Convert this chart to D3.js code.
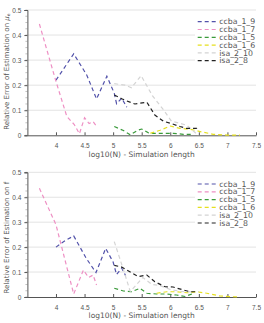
<!DOCTYPE html>
<html>
<head>
<meta charset="utf-8">
<script src="https://cdn.jsdelivr.net/npm/d3@7"></script>
<style>
  body { margin: 0; background: #fff; }
  svg { display: block; font-family: "DejaVu Sans", sans-serif; }
</style>
</head>
<body>
<svg id="chart" width="264" height="323"></svg>
<script>
// Series names and colours (legend order)
const seriesNames = ["ccba_1_9", "ccba_1_7", "ccba_1_5", "ccba_1_6", "isa_2_10", "isa_2_8"];
const seriesColors = ["#5252aa", "#ee90c4", "#3a9a3a", "#e6e01e", "#d4d4d4", "#222222"];

const xTicks = [4, 4.5, 5, 5.5, 6, 6.5, 7, 7.5];
const yTicks = [0, 0.1, 0.2, 0.3, 0.4, 0.5];

// Top panel: relative error on mu_e  ([log10(N), error])
const muE_ccba_1_9 = [[4.0, 0.22], [4.31, 0.325], [4.54, 0.24], [4.71, 0.145], [4.89, 0.236], [5.02, 0.168], [5.06, 0.126], [5.15, 0.148], [5.24, 0.112]];
const muE_ccba_1_7 = [[3.71, 0.444], [4.0, 0.215], [4.19, 0.075], [4.32, 0.043], [4.41, 0.006], [4.5, 0.07], [4.58, 0.047], [4.65, 0.055], [4.71, 0.036]];
const muE_ccba_1_5 = [[5.02, 0.035], [5.18, 0.019], [5.3, 0.002], [5.43, 0.02], [5.5, 0.025], [5.62, 0.01], [5.7, 0.008], [5.88, 0.008], [6.05, 0.008], [6.23, 0.004], [6.4, 0.004]];
const muE_ccba_1_6 = [[5.65, 0.008], [5.82, 0.02], [6.0, 0.037], [6.17, 0.028], [6.35, 0.024], [6.52, 0.015], [6.75, 0.004], [6.99, 0.001], [7.22, 0.001]];
const muE_isa_2_10 = [[5.02, 0.206], [5.21, 0.2], [5.32, 0.19], [5.49, 0.238], [5.69, 0.157], [5.88, 0.102], [6.02, 0.056], [6.17, 0.048], [6.29, 0.04], [6.49, 0.0]];
const muE_isa_2_8 = [[5.02, 0.161], [5.15, 0.146], [5.24, 0.137], [5.38, 0.125], [5.59, 0.132], [5.73, 0.081], [5.88, 0.056], [6.03, 0.046], [6.17, 0.035], [6.28, 0.028], [6.46, 0.028], [6.5, 0.018]];

// Bottom panel: relative error on f
const f_ccba_1_9 = [[4.0, 0.2], [4.16, 0.226], [4.31, 0.245], [4.53, 0.155], [4.7, 0.098], [4.87, 0.195], [5.0, 0.14], [5.06, 0.09], [5.15, 0.116], [5.22, 0.085]];
const f_ccba_1_7 = [[3.71, 0.436], [4.0, 0.29], [4.31, 0.012], [4.48, 0.108], [4.57, 0.078], [4.65, 0.088], [4.71, 0.048]];
const f_ccba_1_5 = [[5.02, 0.035], [5.18, 0.024], [5.32, 0.021], [5.47, 0.035], [5.59, 0.015], [5.76, 0.012], [5.94, 0.012], [6.11, 0.008], [6.26, 0.002], [6.4, 0.014]];
const f_ccba_1_6 = [[5.76, 0.015], [5.94, 0.021], [6.11, 0.021], [6.29, 0.017], [6.46, 0.021], [6.64, 0.015], [6.87, 0.004], [7.1, 0.001], [7.19, 0.0]];
const f_isa_2_10 = [[5.02, 0.222], [5.18, 0.11], [5.3, 0.022], [5.52, 0.078], [5.68, 0.05], [5.82, 0.046], [6.0, 0.03], [6.2, 0.022], [6.4, 0.02]];
const f_isa_2_8 = [[5.02, 0.127], [5.15, 0.12], [5.3, 0.1], [5.44, 0.082], [5.59, 0.088], [5.73, 0.061], [5.91, 0.041], [6.05, 0.04], [6.2, 0.03], [6.35, 0.021], [6.49, 0.021]];

const panels = [
  { top: 10, bottom: 135.3, series: [muE_ccba_1_9, muE_ccba_1_7, muE_ccba_1_5, muE_ccba_1_6, muE_isa_2_10, muE_isa_2_8], label: "mu" },
  { top: 172.3, bottom: 297, series: [f_ccba_1_9, f_ccba_1_7, f_ccba_1_5, f_ccba_1_6, f_isa_2_10, f_isa_2_8], label: "f" }
];

const svg = d3.select("#chart");
const left = 27.4, right = 256;
const x = d3.scaleLinear().domain([3.5, 7.5]).range([left, right]);

panels.forEach(p => {
  const y = d3.scaleLinear().domain([0, 0.5]).range([p.bottom, p.top]);
  const g = svg.append("g");

  // grid
  g.selectAll(".grid").data(yTicks.slice(1)).join("line")
    .attr("x1", left).attr("x2", right)
    .attr("y1", d => y(d)).attr("y2", d => y(d))
    .attr("stroke", "#e3e3e3").attr("stroke-width", 1);

  // minor y ticks
  const minor = d3.range(0, 0.5001, 0.025);
  g.selectAll(".minor").data(minor).join("line")
    .attr("x1", left - 2).attr("x2", left)
    .attr("y1", d => y(d)).attr("y2", d => y(d))
    .attr("stroke", "#999").attr("stroke-width", 0.6);

  // y axis
  const yAxis = g.append("g").attr("transform", `translate(${left},0)`)
    .call(d3.axisLeft(y).tickValues(yTicks).tickFormat(d3.format("")).tickSize(3).tickPadding(3));
  yAxis.select(".domain").attr("stroke", "#555");
  yAxis.selectAll(".tick line").attr("stroke", "#555");
  yAxis.selectAll("text").attr("fill", "#555").style("font-size", "6.5px");

  // x axis
  const xAxis = g.append("g").attr("transform", `translate(0,${p.bottom})`)
    .call(d3.axisBottom(x).tickValues(xTicks).tickFormat(d3.format("")).tickSizeInner(-3).tickSizeOuter(0).tickPadding(8));
  xAxis.select(".domain").attr("stroke", "#555");
  xAxis.selectAll(".tick line").attr("stroke", "#555");
  xAxis.selectAll("text").attr("fill", "#555").style("font-size", "6.5px");

  // axis titles
  g.append("text")
    .attr("x", (left + right) / 2).attr("y", p.bottom + 21.2)
    .attr("text-anchor", "middle").attr("fill", "#555").style("font-size", "7.5px")
    .text("log10(N) - Simulation length");

  const yl = g.append("text")
    .attr("transform", `translate(8.5,${(p.top + p.bottom) / 2 + (p.label === "mu" ? -1 : 3)}) rotate(-90)`)
    .attr("text-anchor", "middle").attr("fill", "#555").style("font-size", "7px");
  if (p.label === "mu") {
    yl.append("tspan").text("Relative Error of Estimation on ");
    yl.append("tspan").attr("font-style", "italic").text("μ");
    yl.append("tspan").attr("font-size", "4.5px").attr("dy", 1.5).text("e");
  } else {
    yl.text("Relative Error of Estimation on f");
  }

  // lines
  const line = d3.line().x(d => x(d[0])).y(d => y(d[1]));
  g.selectAll(".series").data(p.series).join("path")
    .attr("d", line)
    .attr("fill", "none")
    .attr("stroke", (d, i) => seriesColors[i])
    .attr("stroke-width", 1.2)
    .attr("stroke-dasharray", "4,3");

  // legend
  const lx = 197.7, ly = p.top + 11.7, dy = 7.8;
  g.append("rect").attr("x", 195).attr("y", ly - 5).attr("width", 64).attr("height", dy * 6 + 2)
    .attr("fill", "#fff");
  const items = g.selectAll(".leg").data(seriesNames).join("g")
    .attr("transform", (d, i) => `translate(${lx},${ly + i * dy})`);
  items.append("line").attr("x1", 0).attr("x2", 19.6).attr("y1", 0).attr("y2", 0)
    .attr("stroke", (d, i) => seriesColors[i]).attr("stroke-width", 1.2).attr("stroke-dasharray", "4,3");
  items.append("text").attr("x", 21.5).attr("y", 2.6)
    .attr("fill", "#555").style("font-size", "7.8px").text(d => d);
});
</script>
</body>
</html>
